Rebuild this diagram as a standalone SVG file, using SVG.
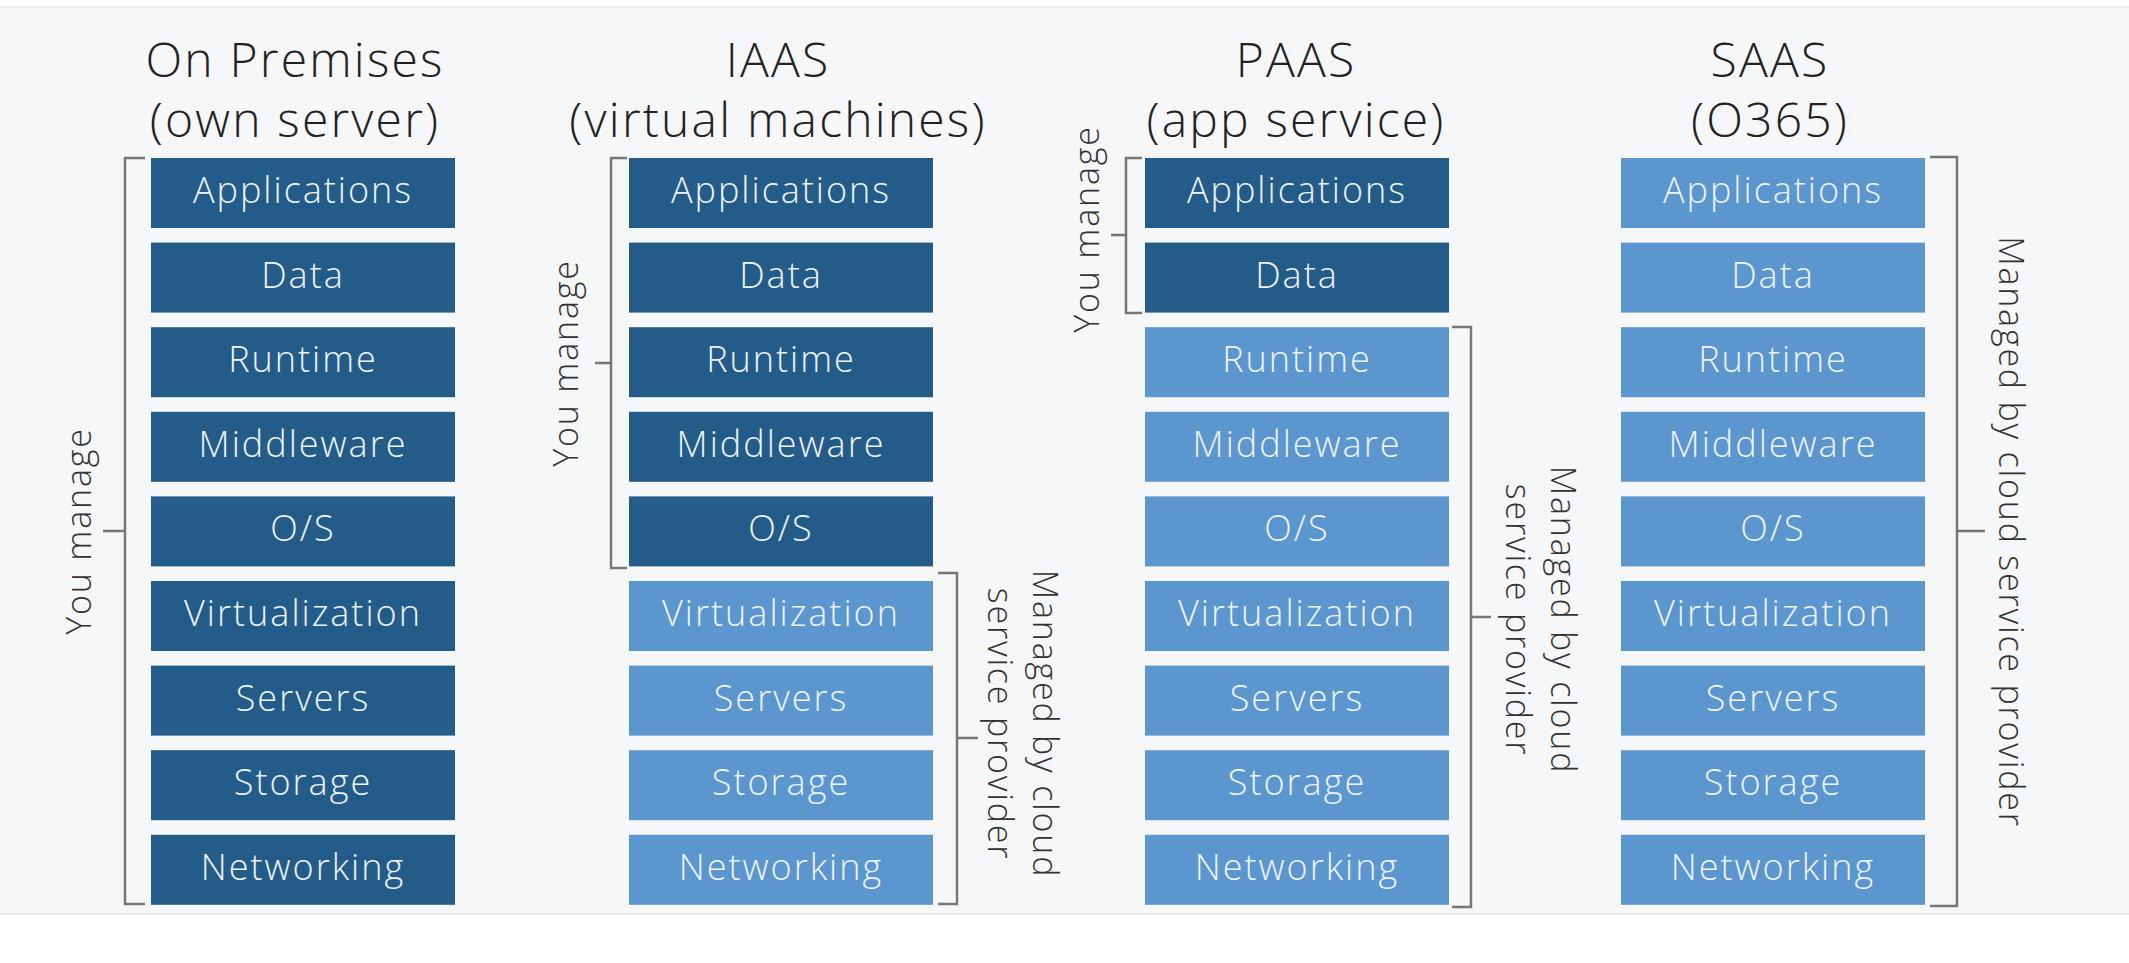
<svg xmlns="http://www.w3.org/2000/svg" width="2129" height="963" viewBox="0 0 2129 963">
<style>
.dk{fill:#245c89}
.lt{fill:#5b96cf}
.bt{font-family:"Open Sans","Liberation Sans",sans-serif;font-weight:300;font-size:36px;letter-spacing:2px;fill:#eef3f8;text-anchor:middle}
.tt{font-family:"Open Sans","Liberation Sans",sans-serif;font-weight:300;font-size:48px;letter-spacing:2.2px;fill:#222;text-anchor:middle}
.lb{font-family:"Open Sans","Liberation Sans",sans-serif;font-weight:300;font-size:34px;letter-spacing:1.8px;fill:#333;text-anchor:middle}
.br{fill:none;stroke:#777;stroke-width:2.5}
</style>
<rect x="0" y="0" width="2129" height="963" fill="#ffffff"/>
<rect x="0" y="7" width="2129" height="907" fill="#f6f7f9"/>
<line x1="0" y1="7" x2="2129" y2="7" stroke="#e8eaf0" stroke-width="1.5"/>
<line x1="0" y1="914" x2="2129" y2="914" stroke="#e3e5ec" stroke-width="1.5"/>

<g id="title-onprem"><text class="tt" x="295" y="77">On Premises</text><text class="tt" x="295" y="137">(own server)</text></g>
<g id="title-iaas"><text class="tt" x="778" y="77">IAAS</text><text class="tt" x="778" y="137">(virtual machines)</text></g>
<g id="title-paas"><text class="tt" x="1296" y="77">PAAS</text><text class="tt" x="1296" y="137">(app service)</text></g>
<g id="title-saas"><text class="tt" x="1770" y="77">SAAS</text><text class="tt" x="1770" y="137">(O365)</text></g>

<g id="col-onprem">
<rect class="dk" x="151" y="158" width="304" height="70"/><text class="bt" x="303" y="203">Applications</text>
<rect class="dk" x="151" y="242.6" width="304" height="70"/><text class="bt" x="303" y="287.6">Data</text>
<rect class="dk" x="151" y="327.2" width="304" height="70"/><text class="bt" x="303" y="372.2">Runtime</text>
<rect class="dk" x="151" y="411.8" width="304" height="70"/><text class="bt" x="303" y="456.8">Middleware</text>
<rect class="dk" x="151" y="496.4" width="304" height="70"/><text class="bt" x="303" y="541.4">O/S</text>
<rect class="dk" x="151" y="581" width="304" height="70"/><text class="bt" x="303" y="626">Virtualization</text>
<rect class="dk" x="151" y="665.6" width="304" height="70"/><text class="bt" x="303" y="710.6">Servers</text>
<rect class="dk" x="151" y="750.2" width="304" height="70"/><text class="bt" x="303" y="795.2">Storage</text>
<rect class="dk" x="151" y="834.8" width="304" height="70"/><text class="bt" x="303" y="879.8">Networking</text>
</g>

<g id="col-iaas">
<rect class="dk" x="629" y="158" width="304" height="70"/><text class="bt" x="781" y="203">Applications</text>
<rect class="dk" x="629" y="242.6" width="304" height="70"/><text class="bt" x="781" y="287.6">Data</text>
<rect class="dk" x="629" y="327.2" width="304" height="70"/><text class="bt" x="781" y="372.2">Runtime</text>
<rect class="dk" x="629" y="411.8" width="304" height="70"/><text class="bt" x="781" y="456.8">Middleware</text>
<rect class="dk" x="629" y="496.4" width="304" height="70"/><text class="bt" x="781" y="541.4">O/S</text>
<rect class="lt" x="629" y="581" width="304" height="70"/><text class="bt" x="781" y="626">Virtualization</text>
<rect class="lt" x="629" y="665.6" width="304" height="70"/><text class="bt" x="781" y="710.6">Servers</text>
<rect class="lt" x="629" y="750.2" width="304" height="70"/><text class="bt" x="781" y="795.2">Storage</text>
<rect class="lt" x="629" y="834.8" width="304" height="70"/><text class="bt" x="781" y="879.8">Networking</text>
</g>

<g id="col-paas">
<rect class="dk" x="1145" y="158" width="304" height="70"/><text class="bt" x="1297" y="203">Applications</text>
<rect class="dk" x="1145" y="242.6" width="304" height="70"/><text class="bt" x="1297" y="287.6">Data</text>
<rect class="lt" x="1145" y="327.2" width="304" height="70"/><text class="bt" x="1297" y="372.2">Runtime</text>
<rect class="lt" x="1145" y="411.8" width="304" height="70"/><text class="bt" x="1297" y="456.8">Middleware</text>
<rect class="lt" x="1145" y="496.4" width="304" height="70"/><text class="bt" x="1297" y="541.4">O/S</text>
<rect class="lt" x="1145" y="581" width="304" height="70"/><text class="bt" x="1297" y="626">Virtualization</text>
<rect class="lt" x="1145" y="665.6" width="304" height="70"/><text class="bt" x="1297" y="710.6">Servers</text>
<rect class="lt" x="1145" y="750.2" width="304" height="70"/><text class="bt" x="1297" y="795.2">Storage</text>
<rect class="lt" x="1145" y="834.8" width="304" height="70"/><text class="bt" x="1297" y="879.8">Networking</text>
</g>

<g id="col-saas">
<rect class="lt" x="1621" y="158" width="304" height="70"/><text class="bt" x="1773" y="203">Applications</text>
<rect class="lt" x="1621" y="242.6" width="304" height="70"/><text class="bt" x="1773" y="287.6">Data</text>
<rect class="lt" x="1621" y="327.2" width="304" height="70"/><text class="bt" x="1773" y="372.2">Runtime</text>
<rect class="lt" x="1621" y="411.8" width="304" height="70"/><text class="bt" x="1773" y="456.8">Middleware</text>
<rect class="lt" x="1621" y="496.4" width="304" height="70"/><text class="bt" x="1773" y="541.4">O/S</text>
<rect class="lt" x="1621" y="581" width="304" height="70"/><text class="bt" x="1773" y="626">Virtualization</text>
<rect class="lt" x="1621" y="665.6" width="304" height="70"/><text class="bt" x="1773" y="710.6">Servers</text>
<rect class="lt" x="1621" y="750.2" width="304" height="70"/><text class="bt" x="1773" y="795.2">Storage</text>
<rect class="lt" x="1621" y="834.8" width="304" height="70"/><text class="bt" x="1773" y="879.8">Networking</text>
</g>

<g id="brackets">
<path class="br" d="M145,158 H125 V904 H145 M125,531 H103"/>
<path class="br" d="M627,158 H611 V568 H627 M611,363 H595"/>
<path class="br" d="M938,573 H957 V904 H938 M957,738 H978"/>
<path class="br" d="M1142,158 H1126 V313 H1142 M1126,235 H1111"/>
<path class="br" d="M1452,327 H1471 V907 H1452 M1471,617 H1491"/>
<path class="br" d="M1930,157 H1957 V906 H1930 M1957,531 H1985"/>
</g>

<g id="labels">
<text class="lb" transform="translate(91,531) rotate(-90)">You manage</text>
<text class="lb" transform="translate(578,363) rotate(-90)">You manage</text>
<text class="lb" transform="translate(1099,229) rotate(-90)">You manage</text>
<text class="lb" transform="translate(1033,724) rotate(90)">Managed by cloud</text>
<text class="lb" transform="translate(988,724) rotate(90)">service provider</text>
<text class="lb" transform="translate(1551,620) rotate(90)">Managed by cloud</text>
<text class="lb" transform="translate(1506,620) rotate(90)">service provider</text>
<text class="lb" transform="translate(1999,532) rotate(90)">Managed by cloud service provider</text>
</g>
</svg>
